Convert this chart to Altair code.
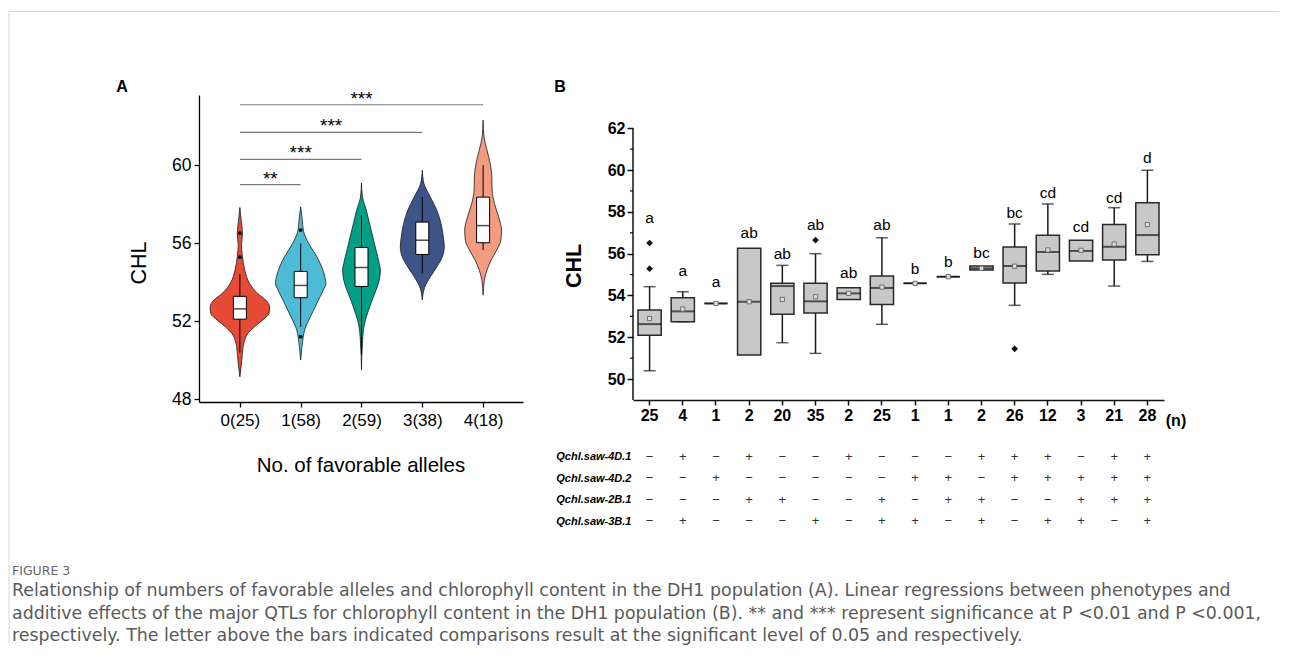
import altair as alt
import pandas as pd

# ---------------- Panel A data ----------------
a_labels = ["0(25)", "1(58)", "2(59)", "3(38)", "4(18)"]
a_colors = ["#E64B35", "#4DBBD5", "#00A087", "#3C5488", "#F39B7F"]
a_q1 = [52.10, 53.20, 53.78, 55.42, 56.02]
a_med = [52.63, 53.83, 54.75, 56.15, 56.90]
a_q3 = [53.27, 54.55, 55.78, 57.08, 58.36]
a_lo = [50.38, 51.70, 50.30, 54.45, 55.64]
a_hi = [54.41, 55.98, 57.44, 58.37, 60.00]
a_out_group = [0, 0, 1, 1]
a_out_value = [56.51, 55.28, 56.67, 51.20]

# violin outlines: CHL value and half width
vio_y = [
    [57.83, 57.18, 56.50, 55.90, 55.30, 54.62, 53.93, 53.42, 53.08, 52.73, 52.39, 52.05, 51.71, 51.37, 50.86, 50.17, 49.66, 49.14],
    [57.86, 57.18, 56.67, 55.98, 55.30, 54.78, 54.27, 53.93, 53.59, 53.08, 52.56, 52.05, 51.54, 51.20, 50.68, 50.00],
    [59.09, 58.37, 57.69, 57.01, 56.32, 55.64, 54.96, 54.62, 54.10, 53.59, 53.08, 52.56, 52.05, 51.54, 50.86, 50.17, 49.49],
    [59.74, 59.06, 58.37, 57.69, 57.01, 56.32, 55.81, 55.30, 54.78, 54.27, 53.76, 53.08],
    [62.31, 61.45, 60.77, 60.09, 59.40, 58.72, 58.04, 57.35, 56.67, 56.15, 55.64, 55.13, 54.62, 54.10, 53.33],
]
vio_w = [
    [0, 1.3, 2.7, 1.7, 2.7, 5.0, 10.0, 18.3, 26.7, 30.7, 30.0, 23.3, 15.0, 8.3, 4.0, 2.3, 1.3, 0],
    [0, 1.7, 2.7, 8.3, 16.7, 21.7, 25.0, 26.0, 23.3, 18.3, 13.3, 8.3, 4.0, 2.7, 1.3, 0],
    [0, 1.0, 5.0, 8.3, 11.7, 15.0, 18.3, 19.5, 18.3, 15.0, 11.0, 7.3, 4.0, 2.0, 1.0, 0.3, 0],
    [0, 1.7, 8.3, 15.0, 19.3, 21.7, 22.7, 20.7, 15.0, 8.3, 2.7, 0],
    [0, 1.0, 4.0, 7.3, 9.0, 9.3, 11.7, 16.0, 19.0, 18.3, 14.0, 8.3, 4.0, 1.3, 0],
]
WIDTH_SCALE = 1 / 62.75

sig_from = [0, 0, 0, 0]
sig_to = [1, 2, 3, 4]
sig_y = [59.0, 60.3, 61.68, 63.1]
sig_txt = ["**", "***", "***", "***"]

# ---------------- Panel B data ----------------
b_n = [25, 4, 1, 2, 20, 35, 2, 25, 1, 1, 2, 26, 12, 3, 21, 28]
b_q1 = [52.10, 52.74, 53.62, 51.15, 53.10, 53.16, 53.81, 53.57, 54.58, 54.90, 55.22, 54.60, 55.17, 55.65, 55.70, 55.95]
b_med = [52.63, 53.24, 53.62, 53.70, 54.45, 53.72, 54.10, 54.36, 54.58, 54.90, 55.30, 55.41, 56.08, 56.13, 56.33, 56.89]
b_q3 = [53.30, 53.89, 53.62, 56.26, 54.58, 54.58, 54.37, 54.93, 54.58, 54.90, 55.41, 56.32, 56.88, 56.64, 57.39, 58.44]
b_mean = [52.90, 53.35, 53.62, 53.70, 53.81, 53.94, 54.10, 54.40, 54.58, 54.90, 55.30, 55.40, 56.18, 56.16, 56.46, 57.39]
b_wlo = [50.40, 52.74, None, None, 51.74, 51.23, None, 52.62, None, None, None, 53.53, 55.01, None, 54.45, 55.63]
b_whi = [54.42, 54.18, None, None, 55.44, 56.00, None, 56.76, None, None, None, 57.42, 58.38, None, 58.20, 59.99]
b_out_idx = [0, 0, 5, 11]
b_out_value = [56.51, 55.28, 56.65, 51.45]
b_letters = ["a", "a", "a", "ab", "ab", "ab", "ab", "ab", "b", "b", "bc", "bc", "cd", "cd", "cd", "d"]
b_letter_y = [57.69, 55.17, 54.63, 56.97, 55.97, 57.37, 55.09, 57.37, 55.27, 55.62, 56.05, 57.93, 58.92, 57.29, 58.68, 60.59]
b_minor = [51, 53, 55, 57, 59, 61]

qtl_names = ["Qchl.saw-4D.1", "Qchl.saw-4D.2", "Qchl.saw-2B.1", "Qchl.saw-3B.1"]
qtl_signs = [
    "-+-+--+---+++-++",
    "--+-----++-+++++",
    "---++--+-++--+++",
    "-+---+-++-+-++-+",
]

caption_head = "FIGURE 3"
caption_lines = [
    "Relationship of numbers of favorable alleles and chlorophyll content in the DH1 population (A). Linear regressions between phenotypes and",
    "additive effects of the major QTLs for chlorophyll content in the DH1 population (B). ** and *** represent significance at P <0.01 and P <0.001,",
    "respectively. The letter above the bars indicated comparisons result at the significant level of 0.05 and respectively.",
]

FONT = "Liberation Sans"
CAP_FONT = "DejaVu Sans"

# ---------------- tables ----------------
vrows = []
for g, (ys, ws) in enumerate(zip(vio_y, vio_w)):
    for v, w in zip(ys, ws):
        vrows.append({"g": g, "v": v, "w": w})
vdf = pd.DataFrame(vrows)

adf = pd.DataFrame({"g": list(range(5)), "q1": a_q1, "med": a_med, "q3": a_q3, "lo": a_lo, "hi": a_hi})
aout = pd.DataFrame({"g": a_out_group, "v": a_out_value})
sigdf = pd.DataFrame({"x1": sig_from, "x2": sig_to, "y": sig_y, "t": sig_txt})
one = pd.DataFrame({"k": [0]})

xa = alt.Scale(domain=[-0.59, 4.574], nice=False, zero=False)
ya = alt.Scale(domain=[47.85, 63.6], nice=False, zero=False)
label_expr_a = "[" + ",".join("'%s'" % s for s in a_labels) + "][datum.value]"

xaxisA = alt.Axis(values=[0, 1, 2, 3, 4], labelExpr=label_expr_a, title=None, grid=False,
                  tickSize=5, labelPadding=5, labelFontSize=17, labelFont=FONT, labelColor="#000",
                  domainColor="#000", tickColor="#000", domainWidth=1.3, tickWidth=1.3)
yaxisA = alt.Axis(values=[48, 52, 56, 60], title=None, grid=False, tickSize=5, labelPadding=3,
                  labelFontSize=17.5, labelFont=FONT, labelColor="#000",
                  domainColor="#000", tickColor="#000", domainWidth=1.3, tickWidth=1.3)


def XA(f):
    return alt.X(f, scale=xa, axis=xaxisA)


def YA(f):
    return alt.Y(f, scale=ya, axis=yaxisA)


violin = alt.Chart(vdf).transform_calculate(
    lo="datum.g - datum.w * %f" % WIDTH_SCALE,
    hi="datum.g + datum.w * %f" % WIDTH_SCALE,
).mark_area(orient="horizontal", interpolate="monotone", stroke="#1a1a1a", strokeWidth=0.8, opacity=1).encode(
    y=YA("v:Q"),
    x=alt.X("lo:Q", scale=xa, axis=xaxisA, stack=None),
    x2="hi:Q",
    color=alt.Color("g:N", scale=alt.Scale(domain=[0, 1, 2, 3, 4], range=a_colors), legend=None),
)
a_whisk = alt.Chart(adf).mark_rule(color="#000", strokeWidth=1).encode(x=XA("g:Q"), y=YA("lo:Q"), y2="hi:Q")
a_box = alt.Chart(adf).mark_bar(size=13, fill="white", stroke="#000", strokeWidth=1).encode(
    x=XA("g:Q"), y=YA("q1:Q"), y2="q3:Q")
a_medl = alt.Chart(adf).mark_tick(orient="horizontal", size=13, thickness=1.5, color="#000").encode(
    x=XA("g:Q"), y=YA("med:Q"))
a_outl = alt.Chart(aout).mark_circle(size=14, color="#000", opacity=1).encode(x=XA("g:Q"), y=YA("v:Q"))
a_sig = alt.Chart(sigdf).mark_rule(color="#7a7a7a", strokeWidth=1.2).encode(
    x=XA("x1:Q"), x2="x2:Q", y=YA("y:Q"))
a_star = alt.Chart(sigdf).transform_calculate(xm="(datum.x1 + datum.x2) / 2").mark_text(
    font=FONT, fontSize=19, baseline="alphabetic", color="#000").encode(
    x=XA("xm:Q"), y=YA("y:Q"), text="t:N")


def label(txt, x, y, size, weight="normal", angle=0, align="center", color="#000", font=FONT,
          baseline="middle", lh=None):
    kw = dict(text=txt, font=font, fontSize=size, fontWeight=weight, align=align, baseline=baseline,
              color=color)
    if angle:
        kw["angle"] = angle
    if lh:
        kw["lineHeight"] = lh
    return alt.Chart(one).mark_text(**kw).encode(x=alt.value(x), y=alt.value(y))


a_title_y = label("CHL", -59, 168, 21.5, angle=270)
a_title_x = label("No. of favorable alleles", 162, 371, 20.5)
a_letter = label("A", -77, -8, 16, weight="bold")

# card frame and caption (drawn relative to panel A)
frame_top = alt.Chart(one).mark_rule(color="#d6d6d6", strokeWidth=1).encode(
    x=alt.value(-190), x2=alt.value(1080), y=alt.value(-83.5))
frame_left = alt.Chart(one).mark_rule(color="#d6d6d6", strokeWidth=1).encode(
    x=alt.value(-190), y=alt.value(-83.5), y2=alt.value(548))
cap_head = label(caption_head, -187, 476, 12.5, color="#666", font=CAP_FONT, align="left")
cap_body = label(caption_lines, -187, 496, 17.4, color="#5a5a5a", font=CAP_FONT, align="left", lh=22.5)

panelA = alt.layer(frame_top, frame_left, violin, a_whisk, a_box, a_medl, a_outl, a_sig, a_star,
                   a_title_y, a_title_x, a_letter, cap_head, cap_body).properties(width=324, height=307)

# ---------------- Panel B ----------------
bdf = pd.DataFrame({"i": list(range(16)), "q1": b_q1, "med": b_med, "q3": b_q3, "mean": b_mean,
                    "lt": b_letters, "ly": b_letter_y})
bw = pd.DataFrame({"i": list(range(16)), "q1": b_q1, "q3": b_q3, "wlo": b_wlo, "whi": b_whi})
bw = bw.dropna()
bout = pd.DataFrame({"i": b_out_idx, "v": b_out_value})
bminor = pd.DataFrame({"m": b_minor})

xb = alt.Scale(domain=list(range(16)), paddingInner=0.3, paddingOuter=0.15)
yb = alt.Scale(domain=[49, 63.59], nice=False, zero=False)
label_expr_b = "[" + ",".join("'%d'" % v for v in b_n) + "][datum.value]"
xaxisB = alt.Axis(labelExpr=label_expr_b, title=None, labelAngle=0, tickSize=5, labelPadding=2,
                  labelFontSize=16, labelFontWeight="bold", labelFont=FONT, labelColor="#000",
                  domainColor="#111", tickColor="#111", domainWidth=1.5, tickWidth=1.5)
yaxisB = alt.Axis(values=[50, 52, 54, 56, 58, 60, 62], title=None, grid=False, domain=False, tickSize=6,
                  labelPadding=2, labelFontSize=16, labelFontWeight="bold", labelFont=FONT,
                  labelColor="#000", tickColor="#111", tickWidth=1.5)


def XB(f):
    return alt.X(f, scale=xb, axis=xaxisB)


def YB(f):
    return alt.Y(f, scale=yb, axis=yaxisB)


b_box = alt.Chart(bdf).mark_bar(fill="#c8c8c8", stroke="#2a2a2a", strokeWidth=1.5).encode(
    x=XB("i:O"), y=YB("q1:Q"), y2="q3:Q")
b_wl = alt.Chart(bw).mark_rule(color="#1a1a1a", strokeWidth=1.5).encode(x=XB("i:O"), y=YB("wlo:Q"), y2="q1:Q")
b_wh = alt.Chart(bw).mark_rule(color="#1a1a1a", strokeWidth=1.5).encode(x=XB("i:O"), y=YB("q3:Q"), y2="whi:Q")
b_cl = alt.Chart(bw).mark_tick(orient="horizontal", size=12, thickness=1.5, color="#1a1a1a").encode(
    x=XB("i:O"), y=YB("wlo:Q"))
b_ch = alt.Chart(bw).mark_tick(orient="horizontal", size=12, thickness=1.5, color="#1a1a1a").encode(
    x=XB("i:O"), y=YB("whi:Q"))
b_medl = alt.Chart(bdf).mark_tick(orient="horizontal", size=23, thickness=2, color="#1a1a1a").encode(
    x=XB("i:O"), y=YB("med:Q"))
b_meanp = alt.Chart(bdf).mark_point(shape="square", size=18, filled=True, fill="#dcdcdc", stroke="#666",
                                    strokeWidth=0.9, opacity=1).encode(x=XB("i:O"), y=YB("mean:Q"))
b_outp = alt.Chart(bout).mark_point(shape="diamond", size=45, filled=True, color="#111", opacity=1).encode(
    x=XB("i:O"), y=YB("v:Q"))
b_let = alt.Chart(bdf).mark_text(font=FONT, fontSize=15.5, baseline="middle", color="#000").encode(
    x=XB("i:O"), y=YB("ly:Q"), text="lt:N")
b_axis_line = alt.Chart(one).mark_rule(color="#111", strokeWidth=1.5).encode(
    x=alt.value(0), y=alt.Y(datum=49, scale=yb, axis=yaxisB), y2=alt.Y2(datum=62))
b_minor_t = alt.Chart(bminor).mark_rule(color="#111", strokeWidth=1.2).encode(
    x=alt.value(-3), x2=alt.value(0), y=YB("m:Q"))
b_title_y = label("CHL", -58, 171, 21.5, weight="bold", angle=270)
b_letter = label("B", -73, -8, 16, weight="bold")
b_n_lab = label("(n)", 543, 326, 16, weight="bold")

panelB = alt.layer(b_wl, b_wh, b_cl, b_ch, b_box, b_medl, b_meanp, b_outp, b_let, b_axis_line, b_minor_t,
                   b_title_y, b_letter, b_n_lab).properties(width=531, height=305)

trows = []
for r, (name, signs) in enumerate(zip(qtl_names, qtl_signs)):
    for i, s in enumerate(signs):
        trows.append({"i": i, "q": name, "s": "+" if s == "+" else "\u2212"})
tdf = pd.DataFrame(trows)
table = alt.Chart(tdf).mark_text(font=FONT, fontSize=13, color="#333", baseline="middle").encode(
    x=alt.X("i:O", scale=xb, axis=None),
    y=alt.Y("q:N", sort=qtl_names, scale=alt.Scale(paddingInner=0, paddingOuter=0),
            axis=alt.Axis(title=None, domain=False, ticks=False, labelPadding=2, labelFontSize=11,
                          labelFont=FONT, labelFontStyle="italic", labelFontWeight="bold",
                          labelColor="#000")),
    text="s:N",
).properties(width=531, height=86)

right = alt.vconcat(panelB, table, spacing=46, bounds="flush")
chart = alt.hconcat(panelA, right, spacing=110, bounds="flush").properties(
    padding={"left": 0, "top": 3, "right": 0, "bottom": 0}
).configure(background="white").configure_view(stroke=None)

chart.save("out.html", embed_options={"renderer": "svg", "actions": False})
